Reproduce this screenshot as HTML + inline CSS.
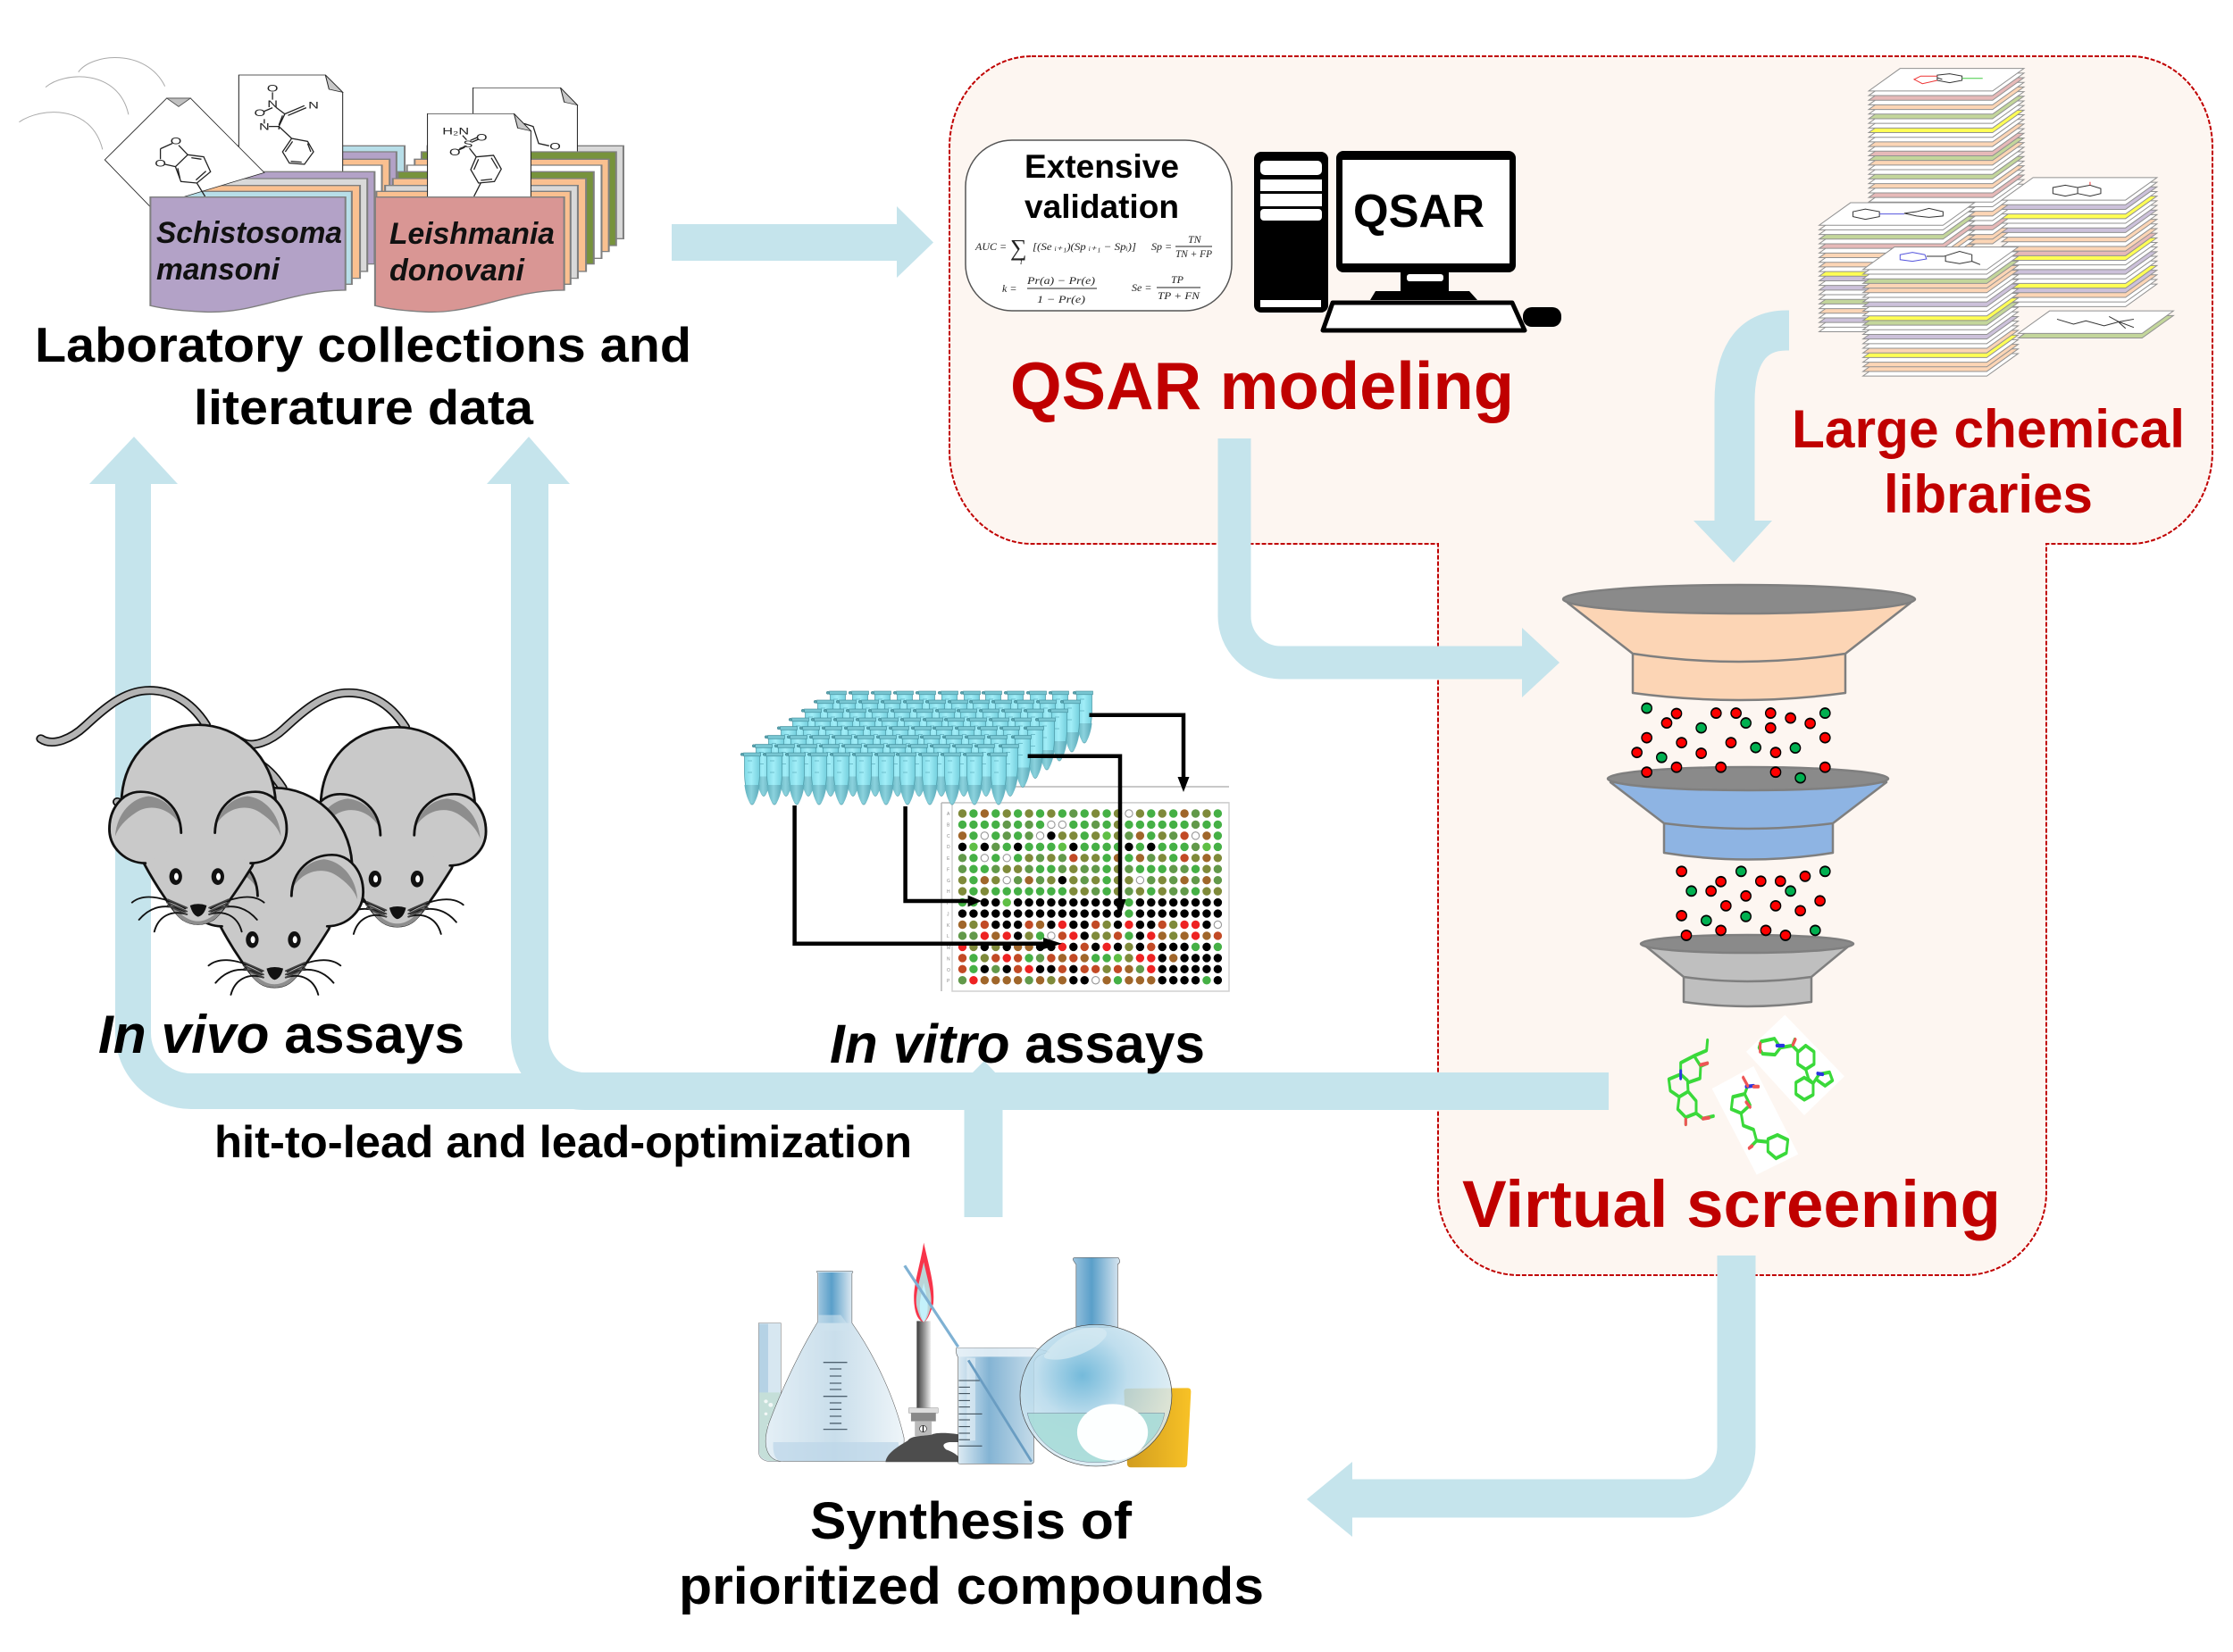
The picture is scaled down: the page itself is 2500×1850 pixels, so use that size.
<!DOCTYPE html>
<html><head><meta charset="utf-8"><title>Virtual screening workflow</title>
<style>html,body{margin:0;padding:0;background:#fff}svg{display:block}text{font-family:"Liberation Sans",Arial,sans-serif}</style></head>
<body>
<svg xmlns="http://www.w3.org/2000/svg" width="2500" height="1850" viewBox="0 0 2500 1850">
<defs>
<linearGradient id="neck" x1="0" x2="1" y1="0" y2="0"><stop offset="0" stop-color="#9cc4de"/><stop offset=".4" stop-color="#5a9fc9"/><stop offset="1" stop-color="#d8e6f0"/></linearGradient>
<linearGradient id="erl" x1="0" x2="1" y1="0" y2="0"><stop offset="0" stop-color="#e4eff6"/><stop offset=".5" stop-color="#c9deeb"/><stop offset="1" stop-color="#eef5f9"/></linearGradient>
<linearGradient id="bk" x1="0" x2="1" y1="0" y2="0"><stop offset="0" stop-color="#e2eef5"/><stop offset=".35" stop-color="#84b4d4"/><stop offset="1" stop-color="#dbe9f1"/></linearGradient>
<radialGradient id="rf" cx=".41" cy=".36" r=".6"><stop offset="0" stop-color="#5caed4"/><stop offset=".5" stop-color="#b4d8ea"/><stop offset="1" stop-color="#d9ebf3"/></radialGradient>
<linearGradient id="steel" x1="0" x2="1" y1="0" y2="0"><stop offset="0" stop-color="#3c3c3c"/><stop offset=".55" stop-color="#999"/><stop offset="1" stop-color="#eee"/></linearGradient>
<linearGradient id="cup" x1="0" x2="1" y1="0" y2="0"><stop offset="0" stop-color="#cf9b1f"/><stop offset="1" stop-color="#f8c226"/></linearGradient>
<linearGradient id="tb" x1="0" x2="1" y1="0" y2="0"><stop offset="0" stop-color="#7fd8e5"/><stop offset=".45" stop-color="#a2eef8"/><stop offset="1" stop-color="#74cfdd"/></linearGradient>
<linearGradient id="tl" x1="0" x2="1" y1="0" y2="0"><stop offset="0" stop-color="#5fb0be"/><stop offset=".45" stop-color="#8bd2dd"/><stop offset="1" stop-color="#5aa9b8"/></linearGradient>
<path id="sh" d="M38 0H188L150 68H0Z" stroke="#919191" stroke-width="1" vector-effect="non-scaling-stroke"/>
<g id="tube"><path d="M-8.5 3.5H8.5L8.5 24C8 40 3.5 58 0 58C-3.5 58-8 40-8.5 24Z" fill="url(#tb)" stroke="#4a98a5" stroke-width=".7"/><path d="M-8.5 36H8.5C7.5 46 3.5 57.5 0 57.5C-3.5 57.5-7.5 46-8.5 36Z" fill="url(#tl)"/><path d="M-5 9H0M-5 22H0" stroke="#5fb0be" stroke-width=".8"/><circle cx="-11.2" cy="1.8" r="1.6" fill="#5aa3ae" stroke="#327c8a" stroke-width=".5"/><rect x="-9.5" y="0" width="19" height="3.8" fill="#78c6d2" stroke="#3f8a98" stroke-width=".6"/></g>
<g id="trow"><use href="#tube" x="0"/><use href="#tube" x="25"/><use href="#tube" x="50"/><use href="#tube" x="75"/><use href="#tube" x="100"/><use href="#tube" x="125"/><use href="#tube" x="150"/><use href="#tube" x="174"/><use href="#tube" x="199"/><use href="#tube" x="224"/><use href="#tube" x="249"/><use href="#tube" x="276"/></g>
<g id="ear"><path d="M512 578C510 490 450 440 385 440C325 440 287 500 287 565C287 630 340 680 400 680L470 640Z" fill="#c9c9c9"/><path d="M305 590C310 510 360 460 410 455C460 460 495 500 505 545C470 490 410 480 370 510C335 535 315 560 305 590Z" fill="#8d8d8d"/><path d="M512 578C510 490 450 440 385 440C325 440 287 500 287 565C287 630 340 680 400 680" fill="none" stroke="#111" stroke-width="8" stroke-linecap="round"/></g>
<g id="wh" fill="none" stroke="#111" stroke-width="5.5" stroke-linecap="round"><path d="M525 832C470 800 400 775 358 812M525 842C470 815 420 820 380 870M530 852C480 835 440 860 428 910"/><path d="M470 802L530 830M468 812L530 842M470 822L530 852" stroke="#444"/></g>
<g id="mouse">
<path d="M590 215C540 130 470 95 400 100C330 105 270 160 210 220C170 260 110 290 72 262" fill="none" stroke="#111" stroke-width="30" stroke-linecap="round"/>
<path d="M590 215C540 130 470 95 400 100C330 105 270 160 210 220C170 260 110 290 72 262" fill="none" stroke="#b4b4b4" stroke-width="20" stroke-linecap="round"/>
<path d="M325 470C330 310 440 215 565 215C690 215 800 320 808 470L735 690C700 750 640 850 610 870C585 888 545 888 520 870C490 850 430 750 395 680Z" fill="#c9c9c9" stroke="#111" stroke-width="8"/>
<path d="M470 800C510 860 540 875 565 875C590 875 620 860 660 800C630 880 590 886 565 886C540 886 500 880 470 800Z" fill="#8d8d8d"/>
<use href="#ear"/><use href="#ear" transform="matrix(-1 0 0 1 1130 0)"/>
<ellipse cx="495" cy="725" rx="20" ry="28" fill="#111"/><ellipse cx="497" cy="725" rx="7" ry="12" fill="#fff"/>
<ellipse cx="627" cy="725" rx="20" ry="28" fill="#111"/><ellipse cx="629" cy="725" rx="7" ry="12" fill="#fff"/>
<path d="M540 822Q565 812 592 822Q585 855 565 860Q548 855 540 822Z" fill="#111"/>
<use href="#wh"/><use href="#wh" transform="matrix(-1 0 0 1 1130 0)"/>
</g>
</defs>

<rect width="2500" height="1850" fill="#fff"/>

<!-- dashed region -->
<path d="M1155 63H2385A92 102 0 0 1 2477 165V505A92 104 0 0 1 2385 609H2291V1335A91 93 0 0 1 2200 1428H1700A90 93 0 0 1 1610 1335V609H1155A92 104 0 0 1 1063 505V165A92 102 0 0 1 1155 63Z" fill="#fdf6f1" stroke="#c00000" stroke-width="2" stroke-dasharray="5 2"/>

<!-- big arrows -->
<g fill="none" stroke="#c5e4ec">
<path d="M752 271.5H1006" stroke-width="41"/>
<path d="M1382 491V690A52 52 0 0 0 1434 742H1706" stroke-width="37"/>
<path d="M2003 370H2000C1960 370 1942 400 1942 450V585" stroke-width="45"/>
<path d="M1944 1406V1620A58 58 0 0 1 1886 1678H1512" stroke-width="43"/>
<path d="M149 540V1157A65 65 0 0 0 214 1222H700" stroke-width="40"/>
<path d="M593 540V1160A62 62 0 0 0 655 1222H1801" stroke-width="42"/>
<path d="M1101 1220V1363" stroke-width="43"/>
</g>
<g fill="#c5e4ec">
<path d="M1004 231L1045 271.5L1004 311Z"/>
<path d="M1704 703L1746 742L1704 781Z"/>
<path d="M1896 583H1984L1941 630Z"/>
<path d="M1514 1637L1463 1679L1514 1721Z"/>
<path d="M100 542L150 489L199 542Z"/>
<path d="M545 542L592 489L638 542Z"/>
<path d="M1087 1203L1102 1188L1116 1203Z"/>
</g>

<!-- document stacks (zoom 1 coordinates) -->
<g transform="translate(0 30) scale(.5102 .3333)" stroke="#7f7f7f" stroke-width="2">
<g fill="none" stroke="#aaa" stroke-width="1"><path vector-effect="non-scaling-stroke" d="M172 152C200 90 320 70 362 200M100 203C140 150 260 140 282 295M42 320C90 270 200 260 225 412"/></g>
<g stroke-width="4">
<path d="M458 400H888V712H458Z" fill="#b7dee8"/>
<path d="M440 420H870V735H440Z" fill="#b3a2c7"/>
<path d="M425 445H855V755H425Z" fill="#fac090"/>
<path d="M408 465H838V778H408Z" fill="#fff"/>
</g>
<path d="M524 162H714L752 220V495H524Z" fill="#fff" stroke="#222" stroke-width="2"/>
<path d="M714 162L752 220L722 210Z" fill="#c8c8c8" stroke="#222"/>
<g stroke-width="4">
<path d="M392 487H822V797H392Z" fill="#b3a2c7"/>
<path d="M376 510H806V822H376Z" fill="#d9d9d9"/>
<path d="M360 533H790V845H360Z" fill="#fac090"/>
<path d="M342 553H772V865H342Z" fill="#b7dee8"/>
</g>
<path d="M366 240H418L580 490L330 605L230 447Z" fill="#fff" stroke="#222" stroke-width="2"/>
<path d="M366 240H418L392 268Z" fill="#c0c0c0" stroke="#444"/>
<g fill="none" stroke="#222" stroke-width="1.3">
<path vector-effect="non-scaling-stroke" d="M412 430L447 437L462 487L432 525L397 520L385 470ZM420 440L442 445M452 485L430 515M395 510L390 475M412 430L392 398M352 410L378 392M352 410L352 445M385 470L362 462M432 525L450 570"/>
<path vector-effect="non-scaling-stroke" d="M598 220V245M598 272L578 285M580 310V325M590 335H612L625 293L605 270M612 335V345M620 298L612 330M625 293L668 265M632 298L672 272M612 335L640 375L675 385L688 420L668 462L635 458L620 420L640 375M675 392L682 420M662 455L638 452M626 420L642 385"/>
</g>
<g font-size="32" fill="#222" stroke="none" text-anchor="middle">
<text x="598" y="218">O</text><text x="598" y="270">N</text><text x="570" y="300">O</text><text x="580" y="347">N</text><text x="688" y="274">N</text><text x="386" y="394">O</text><text x="352" y="469">O</text>
</g>
<!-- red stack -->
<g stroke-width="4"><path d="M938 400H1368V712H938Z" fill="#d9d9d9"/></g>
<path d="M1038 205H1230L1267 263V425H1038Z" fill="#fff" stroke="#222" stroke-width="2"/>
<path d="M1230 205L1267 263L1238 253Z" fill="#c8c8c8" stroke="#222"/>
<path vector-effect="non-scaling-stroke" d="M1150 325L1170 335L1182 392L1205 400" fill="none" stroke="#222" stroke-width="1.3"/>
<text x="1218" y="412" font-size="32" fill="#222" stroke="none" text-anchor="middle">O</text>
<g stroke-width="4">
<path d="M925 420H1352V735H925Z" fill="#77933c"/>
<path d="M910 445H1336V755H910Z" fill="#fac090"/>
<path d="M893 465H1320V778H893Z" fill="#fff"/>
<path d="M873 487H1303V797H873Z" fill="#77933c"/>
<path d="M862 510H1286V822H862Z" fill="#fac090"/>
<path d="M845 533H1268V845H845Z" fill="#d9d9d9"/>
<path d="M826 553H1252V865H826Z" fill="#fac090"/>
</g>
<path d="M938 292H1128L1165 350V575H938Z" fill="#fff" stroke="#222" stroke-width="2"/>
<path d="M1128 292L1165 350L1136 340Z" fill="#c8c8c8" stroke="#222"/>
<path vector-effect="non-scaling-stroke" fill="none" stroke="#222" stroke-width="1.3" d="M1015 365L1024 380M1030 408L1045 437L1083 432L1100 478L1085 520L1050 525L1033 480L1045 437M1078 440L1092 476M1080 512L1055 516M1040 480L1050 445M1020 405L1005 415M1024 400L1008 410M1035 388L1050 378M1032 382L1047 372M1055 525L1040 570"/>
<g font-size="32" fill="#222" stroke="none" text-anchor="middle"><text x="1000" y="362">H₂N</text><text x="1027" y="405">S</text><text x="998" y="432">O</text><text x="1057" y="382">O</text></g>
<!-- front docs -->
<path d="M330 572H758V885C640 885 560 965 450 958C400 955 360 948 330 937Z" fill="#b3a2c7" stroke-width="4"/>
<path d="M823 572H1238V885C1120 885 1040 965 935 958C890 955 850 948 823 937Z" fill="#d99694" stroke-width="4"/>
</g>
<g font-weight="bold" font-style="italic" font-size="34" fill="#111">
<text x="175" y="272" textLength="208" lengthAdjust="spacingAndGlyphs">Schistosoma</text>
<text x="175" y="313" textLength="138" lengthAdjust="spacingAndGlyphs">mansoni</text>
<text x="436" y="273" textLength="185" lengthAdjust="spacingAndGlyphs">Leishmania</text>
<text x="436" y="314" textLength="151" lengthAdjust="spacingAndGlyphs">donovani</text>
</g>

<!-- validation card -->
<rect x="1081" y="157" width="298" height="191" rx="52" ry="52" fill="#fff" stroke="#555" stroke-width="1.5"/>
<g font-weight="bold" font-size="37" fill="#000">
<text x="1147" y="199" textLength="173" lengthAdjust="spacingAndGlyphs">Extensive</text>
<text x="1147" y="244" textLength="173" lengthAdjust="spacingAndGlyphs">validation</text>
</g>
<g fill="#222" font-size="12" style="font-family:'Liberation Serif',serif" font-style="italic">
<text x="1092" y="280" style="font-family:'Liberation Serif',serif">AUC =</text>
<text x="1131" y="286" font-size="26" style="font-family:'Liberation Serif',serif" font-style="normal">∑</text>
<text x="1142" y="296" font-size="9" style="font-family:'Liberation Serif',serif">i</text>
<text x="1156" y="280" textLength="116" lengthAdjust="spacingAndGlyphs" style="font-family:'Liberation Serif',serif">[(Se ᵢ₊₁)(Sp ᵢ₊₁ − Spᵢ)]</text>
<text x="1289" y="280" style="font-family:'Liberation Serif',serif">Sp =</text>
<text x="1330" y="272" style="font-family:'Liberation Serif',serif">TN</text>
<text x="1316" y="288" textLength="41" lengthAdjust="spacingAndGlyphs" style="font-family:'Liberation Serif',serif">TN + FP</text>
<text x="1122" y="327" style="font-family:'Liberation Serif',serif">k =</text>
<text x="1150" y="318" textLength="76" lengthAdjust="spacingAndGlyphs" style="font-family:'Liberation Serif',serif">Pr(a) − Pr(e)</text>
<text x="1161" y="339" textLength="54" lengthAdjust="spacingAndGlyphs" style="font-family:'Liberation Serif',serif">1 − Pr(e)</text>
<text x="1267" y="326" style="font-family:'Liberation Serif',serif">Se =</text>
<text x="1311" y="317" style="font-family:'Liberation Serif',serif">TP</text>
<text x="1296" y="335" textLength="47" lengthAdjust="spacingAndGlyphs" style="font-family:'Liberation Serif',serif">TP + FN</text>
</g>
<path d="M1316 276H1357M1150 323H1228M1295 322H1344" stroke="#222" stroke-width="1"/>

<!-- computer -->
<rect x="1404" y="170" width="83" height="180" rx="8" fill="#000"/>
<g fill="#fff"><rect x="1411" y="180" width="69" height="16" rx="5"/><rect x="1411" y="201" width="69" height="13"/><rect x="1411" y="217" width="69" height="14"/><rect x="1411" y="234" width="69" height="13" rx="4"/><rect x="1411" y="336" width="68" height="8"/></g>
<rect x="1496" y="169" width="201" height="136" rx="8" fill="#000"/>
<rect x="1503" y="179" width="187" height="116" fill="#fff"/>
<text x="1515" y="254" font-weight="bold" font-size="52" fill="#000" textLength="147" lengthAdjust="spacingAndGlyphs">QSAR</text>
<path d="M1568 305H1622V326H1645L1654 336H1534L1540 326H1568Z" fill="#000"/>
<rect x="1575" y="307" width="41" height="8" rx="3" fill="#fff"/>
<path d="M1492 339H1693L1707 370H1481Z" fill="#fff" stroke="#000" stroke-width="5" stroke-linejoin="round"/>
<rect x="1705" y="344" width="43" height="22" rx="10" fill="#000"/>

<text x="1131" y="458" font-weight="bold" font-size="75" fill="#c00000" textLength="564" lengthAdjust="spacingAndGlyphs">QSAR modeling</text>

<!-- libraries (zoom 2 coordinates) -->
<g transform="translate(1050 50) scale(.9247 .3704)" fill="#fff">
<g transform="translate(1127 72)">
<use href="#sh" y="462" fill="#fcd5b5"/><use href="#sh" y="448" fill="#fcd5b5"/><use href="#sh" y="434"/><use href="#sh" y="420" fill="#e6b9b8"/><use href="#sh" y="406"/><use href="#sh" y="392"/><use href="#sh" y="378" fill="#fcd5b5"/><use href="#sh" y="364"/><use href="#sh" y="350"/><use href="#sh" y="336"/><use href="#sh" y="322" fill="#e6b9b8"/><use href="#sh" y="308"/><use href="#sh" y="294" fill="#fcd5b5"/><use href="#sh" y="280"/><use href="#sh" y="266" fill="#c3d69b"/><use href="#sh" y="252"/><use href="#sh" y="238"/><use href="#sh" y="224" fill="#fcd5b5"/><use href="#sh" y="210" fill="#c3d69b"/><use href="#sh" y="196" fill="#e6b9b8"/><use href="#sh" y="182"/><use href="#sh" y="168" fill="#fcd5b5"/><use href="#sh" y="154"/><use href="#sh" y="140"/><use href="#sh" y="126" fill="#ffff55"/><use href="#sh" y="112"/><use href="#sh" y="98"/><use href="#sh" y="84" fill="#c3d69b"/><use href="#sh" y="70"/><use href="#sh" y="56" fill="#fcd5b5"/><use href="#sh" y="42"/><use href="#sh" y="28" fill="#e6b9b8"/><use href="#sh" y="14"/><use href="#sh"/>
</g>
<g transform="translate(1288 402)">
<use href="#sh" y="322"/><use href="#sh" y="308"/><use href="#sh" y="294" fill="#fcd5b5"/><use href="#sh" y="280" fill="#ccc1da"/><use href="#sh" y="266" fill="#ffff55"/><use href="#sh" y="252"/><use href="#sh" y="238"/><use href="#sh" y="224" fill="#ccc1da"/><use href="#sh" y="210"/><use href="#sh" y="196"/><use href="#sh" y="182" fill="#ffff55"/><use href="#sh" y="168" fill="#e6b9b8"/><use href="#sh" y="154" fill="#fcd5b5"/><use href="#sh" y="140"/><use href="#sh" y="126" fill="#fcd5b5"/><use href="#sh" y="112"/><use href="#sh" y="98" fill="#ccc1da"/><use href="#sh" y="84"/><use href="#sh" y="70"/><use href="#sh" y="56" fill="#ffff55"/><use href="#sh" y="42"/><use href="#sh" y="28" fill="#ccc1da"/><use href="#sh" y="14"/><use href="#sh"/>
</g>
<g transform="translate(1067 478)">
<use href="#sh" y="322"/><use href="#sh" y="308"/><use href="#sh" y="294" fill="#ccc1da"/><use href="#sh" y="280"/><use href="#sh" y="266" fill="#fcd5b5"/><use href="#sh" y="252"/><use href="#sh" y="238" fill="#c3d69b"/><use href="#sh" y="224"/><use href="#sh" y="210"/><use href="#sh" y="196" fill="#ccc1da"/><use href="#sh" y="182"/><use href="#sh" y="168" fill="#ccc1da"/><use href="#sh" y="154" fill="#ffff55"/><use href="#sh" y="140"/><use href="#sh" y="126" fill="#fcd5b5"/><use href="#sh" y="112"/><use href="#sh" y="98" fill="#fcd5b5"/><use href="#sh" y="84"/><use href="#sh" y="70" fill="#e6b9b8"/><use href="#sh" y="56"/><use href="#sh" y="42" fill="#c3d69b"/><use href="#sh" y="28"/><use href="#sh" y="14"/><use href="#sh"/>
</g>
<g transform="translate(1120 612)">
<use href="#sh" y="322"/><use href="#sh" y="308" fill="#fcd5b5"/><use href="#sh" y="294" fill="#fcd5b5"/><use href="#sh" y="280"/><use href="#sh" y="266" fill="#ffff55"/><use href="#sh" y="252" fill="#fcd5b5"/><use href="#sh" y="238"/><use href="#sh" y="224"/><use href="#sh" y="210" fill="#ccc1da"/><use href="#sh" y="196"/><use href="#sh" y="182"/><use href="#sh" y="168" fill="#c3d69b"/><use href="#sh" y="154" fill="#ffff55"/><use href="#sh" y="140"/><use href="#sh" y="126"/><use href="#sh" y="112" fill="#ccc1da"/><use href="#sh" y="98"/><use href="#sh" y="84"/><use href="#sh" y="70" fill="#fcd5b5"/><use href="#sh" y="56" fill="#fcd5b5"/><use href="#sh" y="42" fill="#c3d69b"/><use href="#sh" y="28"/><use href="#sh" y="14"/><use href="#sh"/>
</g>
<use href="#sh" x="1308" y="819" fill="#c3d69b"/><use href="#sh" x="1308" y="805"/>
<g fill="none" stroke="#333" stroke-width="1" >
<path vector-effect="non-scaling-stroke" d="M1210 92L1225 88L1240 95L1240 108L1225 115L1210 108ZM1210 100L1216 105"/>
<path vector-effect="non-scaling-stroke" stroke="#e33" d="M1210 95L1190 95L1182 105L1192 118L1210 108"/>
<path vector-effect="non-scaling-stroke" stroke="#4c4" d="M1240 102H1265"/>
<path vector-effect="non-scaling-stroke" d="M1350 432L1365 425L1380 432V450L1365 458L1350 450ZM1380 432L1395 425L1408 435V450L1395 458L1380 450"/>
<path vector-effect="non-scaling-stroke" stroke="#e33" d="M1395 425V415"/>
<path vector-effect="non-scaling-stroke" d="M1108 505L1123 497L1140 505V520L1123 528L1108 520ZM1170 510L1185 505L1200 495L1217 505V518L1200 522L1185 518Z"/>
<path vector-effect="non-scaling-stroke" stroke="#55d" d="M1140 512H1170"/>
<path vector-effect="non-scaling-stroke" stroke="#55d" d="M1165 635L1180 628L1195 635L1197 648L1180 655L1165 650Z"/>
<path vector-effect="non-scaling-stroke" d="M1197 640H1218L1237 625L1252 635V655L1237 662L1220 655V640M1252 655L1262 665"/>
<path vector-effect="non-scaling-stroke" d="M1355 830L1375 845L1390 835L1412 850L1430 838L1448 830M1430 838L1448 855M1430 838L1418 822M1430 840L1438 858"/>
</g>
</g>
<g font-weight="bold" font-size="60" fill="#c00000">
<text x="2006" y="501" textLength="440" lengthAdjust="spacingAndGlyphs">Large chemical</text>
<text x="2109" y="574" textLength="234" lengthAdjust="spacingAndGlyphs">libraries</text>
</g>

<!-- funnels -->
<g stroke="#7f7f7f" stroke-width="2.5" stroke-linejoin="round">
<path d="M1828 732V776Q1947 792 2066 776V732Z" fill="#fcd5b5"/>
<path d="M1755 675L1828 732Q1947 750 2066 732L2139 675Z" fill="#fcd5b5"/>
<ellipse cx="1947" cy="671" rx="197" ry="16" fill="#8a8a8a"/>
<path d="M1863 922V955Q1957 970 2052 955V922Z" fill="#8eb4e3"/>
<path d="M1803 876L1863 922Q1957 934 2052 922L2112 876Z" fill="#8eb4e3"/>
<ellipse cx="1957" cy="872" rx="157" ry="13" fill="#8a8a8a"/>
<path d="M1885 1094V1122Q1956 1132 2028 1122V1094Z" fill="#bfbfbf"/>
<path d="M1843 1060L1885 1094Q1956 1104 2028 1094L2069 1060Z" fill="#bfbfbf"/>
<ellipse cx="1956" cy="1057" rx="119" ry="10" fill="#8a8a8a"/>
</g>
<!-- balls & molecules (zoom 3 coordinates) -->
<g transform="translate(1700 620) scale(.3333 .4591)" stroke="#000" stroke-width="4">
<g fill="#f00">
<ellipse cx="531" cy="390" rx="17" ry="12"/><ellipse cx="498" cy="413" rx="17" ry="12"/><ellipse cx="664" cy="389" rx="17" ry="12"/><ellipse cx="731" cy="389" rx="17" ry="12"/><ellipse cx="847" cy="389" rx="17" ry="12"/><ellipse cx="847" cy="425" rx="17" ry="12"/><ellipse cx="914" cy="401" rx="17" ry="12"/><ellipse cx="980" cy="414" rx="17" ry="12"/><ellipse cx="431" cy="449" rx="17" ry="12"/><ellipse cx="1030" cy="449" rx="17" ry="12"/><ellipse cx="548" cy="461" rx="17" ry="12"/><ellipse cx="714" cy="461" rx="17" ry="12"/><ellipse cx="864" cy="485" rx="17" ry="12"/><ellipse cx="398" cy="485" rx="17" ry="12"/><ellipse cx="614" cy="487" rx="17" ry="12"/><ellipse cx="431" cy="533" rx="17" ry="12"/><ellipse cx="531" cy="521" rx="17" ry="12"/><ellipse cx="680" cy="521" rx="17" ry="12"/><ellipse cx="864" cy="533" rx="17" ry="12"/><ellipse cx="1030" cy="521" rx="17" ry="12"/>
<ellipse cx="548" cy="775" rx="17" ry="12"/><ellipse cx="680" cy="800" rx="17" ry="12"/><ellipse cx="814" cy="799" rx="17" ry="12"/><ellipse cx="880" cy="799" rx="17" ry="12"/><ellipse cx="963" cy="787" rx="17" ry="12"/><ellipse cx="647" cy="823" rx="17" ry="12"/><ellipse cx="764" cy="835" rx="17" ry="12"/><ellipse cx="1013" cy="847" rx="17" ry="12"/><ellipse cx="697" cy="859" rx="17" ry="12"/><ellipse cx="864" cy="859" rx="17" ry="12"/><ellipse cx="947" cy="871" rx="17" ry="12"/><ellipse cx="548" cy="883" rx="17" ry="12"/><ellipse cx="680" cy="919" rx="17" ry="12"/><ellipse cx="831" cy="919" rx="17" ry="12"/><ellipse cx="897" cy="931" rx="17" ry="12"/><ellipse cx="564" cy="931" rx="17" ry="12"/>
</g>
<g fill="#00b050">
<ellipse cx="431" cy="377" rx="17" ry="12"/><ellipse cx="764" cy="413" rx="17" ry="12"/><ellipse cx="614" cy="425" rx="17" ry="12"/><ellipse cx="1030" cy="389" rx="17" ry="12"/><ellipse cx="797" cy="473" rx="17" ry="12"/><ellipse cx="930" cy="474" rx="17" ry="12"/><ellipse cx="481" cy="497" rx="17" ry="12"/><ellipse cx="947" cy="547" rx="17" ry="12"/>
<ellipse cx="748" cy="775" rx="17" ry="12"/><ellipse cx="1030" cy="775" rx="17" ry="12"/><ellipse cx="581" cy="823" rx="17" ry="12"/><ellipse cx="914" cy="823" rx="17" ry="12"/><ellipse cx="631" cy="895" rx="17" ry="12"/><ellipse cx="764" cy="885" rx="17" ry="12"/><ellipse cx="997" cy="919" rx="17" ry="12"/>
</g>
<path d="M650 1305L790 1250L940 1465L800 1515Z" fill="#fff" stroke="none"/>
<path d="M765 1215L895 1125L1095 1275L960 1370Z" fill="#fff" stroke="none"/>
<g fill="none" stroke="#3ad93a" stroke-width="9" stroke-linejoin="round" stroke-linecap="round">
<path d="M635 1187L632 1212L590 1225L545 1242V1270L505 1282L510 1310L540 1325L570 1312L568 1285L545 1270M590 1225L612 1250L610 1280L570 1290M540 1325L535 1355L562 1375L597 1365V1335L570 1312M597 1365L620 1378L655 1372M612 1250L635 1243M562 1375V1392"/>
<path d="M870 1418L905 1430L900 1462L865 1475L838 1458L838 1428ZM838 1435L800 1432L790 1405L755 1395L748 1365L715 1355L720 1325L760 1318L778 1345L748 1365M760 1318L770 1298M800 1432L780 1447"/>
<path d="M815 1190L860 1183L880 1205L862 1222L820 1220L808 1205ZM880 1205L920 1200L940 1215L965 1200L993 1215V1245L965 1258L938 1245V1215M920 1200L928 1185M965 1258L975 1282L990 1292V1320L960 1332L932 1318V1290L960 1278L990 1292L1010 1270L1045 1265L1055 1285L1030 1298L1005 1285"/>
</g>
<g fill="none" stroke-width="9" stroke-linecap="round">
<path d="M545 1262V1280M868 1200H890M765 1300L790 1298" stroke="#2a35e0"/>
<path d="M612 1247L635 1243M620 1378L640 1376M562 1380V1392M770 1298L755 1278M790 1300H806M785 1445L775 1450M922 1198L930 1185M812 1195V1215M765 1338L778 1350" stroke="#ee5555"/>
<path d="M1005 1268L1022 1270" stroke="#2a35e0"/>
</g>
</g>
<text x="1637" y="1374" font-weight="bold" font-size="74" fill="#c00000" textLength="603" lengthAdjust="spacingAndGlyphs">Virtual screening</text>

<!-- mice -->
<g transform="translate(20 740) scale(.357 .3333)">
<use href="#mouse" transform="translate(625 8)"/>
<use href="#mouse" transform="translate(240 212)"/>
<use href="#mouse"/>
</g>
<text x="110" y="1179" font-weight="bold" font-size="60" fill="#000" textLength="410" lengthAdjust="spacingAndGlyphs"><tspan font-style="italic">In vivo</tspan> assays</text>

<!-- plate -->
<path d="M1137 881H1376M1054 899V1110" stroke="#b5b5b5" stroke-width="1.5" fill="none"/>
<path d="M1054 899H1376" stroke="#b5b5b5" stroke-width="1.5" fill="none"/>
<rect x="1066" y="899" width="310" height="211" fill="#fff" stroke="#d0d0d0" stroke-width="1.5"/>
<g transform="translate(1077.5 911) scale(12.43 12.45)" fill="none" stroke-linecap="round" stroke-width=".76">
<path stroke="#000" d="M2 8h0M3 8h0M5 8h0M6 8h0M7 8h0M8 8h0M9 8h0M10 8h0M11 8h0M12 8h0M13 8h0M14 8h0M16 8h0M17 8h0M18 8h0M19 8h0M20 8h0M21 8h0M22 8h0M23 8h0M0 9h0M1 9h0M2 9h0M3 9h0M4 9h0M5 9h0M6 9h0M7 9h0M8 9h0M9 9h0M10 9h0M11 9h0M12 9h0M13 9h0M14 9h0M16 9h0M17 9h0M18 9h0M19 9h0M20 9h0M21 9h0M22 9h0M23 9h0"/>
<path stroke="#7f8a3a" d="M0 0h0M4 0h0M6 0h0M8 0h0M12 0h0M14 0h0M16 0h0M18 0h0M22 0h0M14 1h0M9 2h0M10 2h0M12 2h0M14 2h0M18 2h0M6 4h0M8 4h0M11 4h0M12 4h0M18 4h0M21 4h0M23 4h0M4 5h0M5 5h0M10 5h0M14 5h0M22 5h0M0 6h0M3 6h0M8 6h0M10 6h0M12 6h0M14 6h0M15 6h0M18 6h0M0 7h0M2 7h0M10 7h0M11 7h0M14 7h0M16 7h0M18 7h0M22 7h0M23 7h0M1 10h0M13 10h0M19 10h0M6 11h0M12 11h0M13 11h0M19 11h0M1 12h0M3 12h0M15 12h0M2 13h0M15 13h0M13 14h0M8 15h0"/>
<path stroke="#45b045" d="M1 0h0M3 0h0M5 0h0M7 0h0M9 0h0M11 0h0M13 0h0M17 0h0M19 0h0M23 0h0M0 1h0M1 1h0M2 1h0M3 1h0M5 1h0M7 1h0M10 1h0M11 1h0M13 1h0M15 1h0M16 1h0M17 1h0M18 1h0M19 1h0M20 1h0M22 1h0M23 1h0M1 2h0M3 2h0M5 2h0M11 2h0M17 2h0M23 2h0M4 3h0M6 3h0M7 3h0M8 3h0M11 3h0M12 3h0M13 3h0M14 3h0M16 3h0M18 3h0M19 3h0M20 3h0M23 3h0M1 4h0M3 4h0M5 4h0M13 4h0M15 4h0M19 4h0M1 5h0M2 5h0M7 5h0M8 5h0M13 5h0M16 5h0M17 5h0M18 5h0M21 5h0M1 6h0M13 6h0M1 7h0M3 7h0M4 7h0M5 7h0M6 7h0M7 7h0M8 7h0M9 7h0M13 7h0M17 7h0M21 7h0M0 8h0M1 8h0M15 8h0M15 9h0M7 11h0M15 11h0M21 12h0M23 12h0M1 13h0M6 13h0M12 13h0M13 13h0M1 14h0M14 15h0M22 15h0"/>
<path stroke="#62994a" d="M10 0h0M21 0h0M4 1h0M6 1h0M12 1h0M21 1h0M4 2h0M6 2h0M15 2h0M19 2h0M3 3h0M21 3h0M0 4h0M7 4h0M9 4h0M17 4h0M0 5h0M3 5h0M6 5h0M9 5h0M11 5h0M12 5h0M15 5h0M19 5h0M20 5h0M23 5h0M5 6h0M7 6h0M11 6h0M17 6h0M19 6h0M21 6h0M23 6h0M12 7h0M15 7h0M19 7h0M20 7h0M0 11h0M1 11h0M7 13h0M3 14h0M16 14h0M0 15h0M6 15h0"/>
<path stroke="#5fbf45" d="M13 2h0M1 3h0M9 3h0M22 3h0M4 8h0M14 13h0"/>
<path stroke="#a0662a" d="M2 0h0M20 0h0M0 2h0M16 2h0M22 2h0M14 4h0M16 4h0M22 4h0M2 6h0M6 6h0M20 6h0M22 6h0M0 10h0M7 10h0M3 11h0M18 11h0M20 11h0M22 11h0M5 12h0M6 12h0M9 13h0M11 13h0M19 13h0M15 14h0M2 15h0M3 15h0M4 15h0M5 15h0M7 15h0M9 15h0M13 15h0M15 15h0M16 15h0M17 15h0"/>
<path stroke="#c24a25" d="M20 2h0M10 4h0M20 4h0M2 10h0M6 10h0M12 10h0M18 10h0M9 11h0M14 11h0M23 11h0M11 12h0M17 12h0M0 13h0M3 13h0M5 13h0M8 13h0M10 13h0M0 14h0M5 14h0M9 14h0M11 14h0M12 14h0M14 14h0"/>
<path stroke="#ee2222" d="M9 10h0M15 10h0M20 10h0M21 10h0M2 11h0M4 11h0M10 11h0M17 11h0M21 11h0M0 12h0M9 12h0M13 12h0M4 13h0M16 13h0M17 13h0M6 14h0M17 14h0M1 15h0"/>
<path stroke="#000" d="M8 2h0M0 3h0M2 3h0M5 3h0M10 3h0M15 3h0M17 3h0M9 6h0M3 10h0M4 10h0M5 10h0M8 10h0M10 10h0M11 10h0M14 10h0M16 10h0M17 10h0M22 10h0M5 11h0M11 11h0M16 11h0M2 12h0M4 12h0M7 12h0M8 12h0M10 12h0M12 12h0M14 12h0M16 12h0M18 12h0M19 12h0M20 12h0M22 12h0M18 13h0M20 13h0M21 13h0M22 13h0M23 13h0M2 14h0M4 14h0M7 14h0M8 14h0M10 14h0M18 14h0M19 14h0M20 14h0M21 14h0M22 14h0M23 14h0M10 15h0M11 15h0M18 15h0M19 15h0M20 15h0M21 15h0M23 15h0"/>
<path stroke="#999" d="M15 0h0M8 1h0M9 1h0M2 2h0M7 2h0M21 2h0M2 4h0M4 4h0M4 6h0M16 6h0M23 10h0M8 11h0M12 15h0"/>
<path stroke="#fff" stroke-width=".58" d="M15 0h0M8 1h0M9 1h0M2 2h0M7 2h0M21 2h0M2 4h0M4 4h0M4 6h0M16 6h0M23 10h0M8 11h0M12 15h0"/>
</g>
<text x="1060 1060 1060 1060 1060 1060 1060 1060 1060 1060 1060 1060 1060 1060 1060 1060" y="913 925.5 938 950 963 975.5 988 1000 1013 1025.5 1038 1050 1063 1075.5 1088 1100" font-size="5" fill="#888">ABCDEFGHIJKLMNOP</text>

<!-- tubes -->
<g>
<use href="#trow" transform="translate(938 774)"/>
<use href="#trow" transform="translate(924 784)"/>
<use href="#trow" transform="translate(910 794)"/>
<use href="#trow" transform="translate(896 804)"/>
<use href="#trow" transform="translate(883 813.5)"/>
<use href="#trow" transform="translate(869 823.5)"/>
<use href="#trow" transform="translate(855 833.5)"/>
<use href="#trow" transform="translate(842 843)"/>
</g>
<!-- black arrows -->
<g fill="none" stroke="#000" stroke-width="4.5">
<path d="M1219.5 800.7H1325V872"/>
<path d="M1150.6 846.7H1254V1009"/>
<path d="M1013.6 903V1009H1086"/>
<path d="M889.6 902V1056.7H1170"/>
</g>
<g fill="#000">
<path d="M1318.5 870H1331.5L1325 887Z"/>
<path d="M1247.5 1007H1260.5L1254 1027Z"/>
<path d="M1083.6 1002.5V1015.5L1099 1009Z"/>
<path d="M1168 1050V1063L1189 1056.7Z"/>
</g>
<text x="929" y="1190" font-weight="bold" font-size="61" fill="#000" textLength="420" lengthAdjust="spacingAndGlyphs"><tspan font-style="italic">In vitro</tspan> assays</text>

<text x="240" y="1296" font-weight="bold" font-size="50" fill="#000" textLength="781" lengthAdjust="spacingAndGlyphs">hit-to-lead and lead-optimization</text>

<g font-weight="bold" font-size="54.5" fill="#000">
<text x="39" y="405" textLength="735" lengthAdjust="spacingAndGlyphs">Laboratory collections and</text>
<text x="217" y="475" textLength="380" lengthAdjust="spacingAndGlyphs">literature data</text>
</g>

<!-- glassware (zoom 6 coordinates) -->
<g transform="translate(820 1380) scale(.357 .3333)">
<path d="M82 305H152V770H115Q82 765 82 735Z" fill="#d7e7f1" stroke="#777" stroke-width="1.5"/>
<path d="M84 308H112V540H84Z" fill="#a6c9e0" opacity=".7"/>
<path d="M84 538H150V768H118Q84 762 84 735Z" fill="#c5dfd9"/>
<g fill="#fff" opacity=".8"><circle cx="105" cy="568" r="6"/><circle cx="120" cy="580" r="7"/><circle cx="105" cy="610" r="5"/><circle cx="115" cy="650" r="6"/><circle cx="110" cy="700" r="6"/><circle cx="125" cy="738" r="8"/><circle cx="120" cy="690" r="5"/></g>
<path d="M268 300V138Q260 130 268 130H372Q382 130 375 138V305C450 420 510 560 538 690C540 720 530 770 490 770H160C110 770 90 720 115 640C150 540 210 400 268 300Z" fill="url(#erl)" stroke="#555" stroke-width="1.5"/>
<path d="M270 135H373V305H270Z" fill="url(#neck)"/>
<path d="M270 278H340L375 330H270Z" fill="#cfe2ee" opacity=".6"/>
<path d="M128 705H520L530 768H150Q125 760 128 705Z" fill="#bcd6e8" opacity=".7"/>
<path d="M285 437H360M305 459H342M305 483H342M305 507H342M305 528H342M285 551H360M305 573H342M305 595H342M305 618H342M305 642H342M285 662H360" stroke="#4f6270" stroke-width="4"/>
<path d="M578 298H622V590H578Z" fill="url(#steel)"/>
<path d="M600 35C620 130 635 180 630 240Q615 295 600 302Q575 295 570 240C565 180 585 130 600 35Z" fill="#f8344a"/>
<path d="M600 100C614 170 628 210 622 250Q612 292 600 302Q588 292 578 250C572 210 586 170 600 100Z" fill="#b9d6d8"/>
<path d="M600 170C608 210 616 240 611 270Q605 296 600 302Q595 296 589 270C584 240 592 210 600 170Z" fill="#c4f1fb"/>
<path d="M553 590H645V607H553Z" fill="#ddd" stroke="#666"/>
<path d="M560 607H638V635H560Z" fill="#888"/>
<path d="M572 635H625V685H572Z" fill="#bbb"/>
<circle cx="598" cy="660" r="11" fill="#fff" stroke="#333" stroke-width="2"/><path d="M598 649V671" stroke="#222" stroke-width="4"/>
<path d="M480 772C485 740 520 720 550 700C560 682 600 685 625 680C640 670 700 675 720 682V705H680Q650 710 670 730Q710 745 720 772Z" fill="#4d4d4d"/>
<path d="M540 112L708 385" stroke="#7fb1d3" stroke-width="9"/>
<path d="M708 775V420Q700 410 702 388H945L995 402Q950 410 945 440V770Q945 778 935 778H716Q708 778 708 775Z" fill="url(#bk)" stroke="#444" stroke-width="1.5"/>
<path d="M702 388H945L990 402L945 418H708Z" fill="#e6f0f6" opacity=".9"/>
<path d="M735 422H762V700H735Z" fill="#eef5f9" opacity=".5"/>
<path d="M710 498H783M710 520H745M710 542H745M710 565H745M710 587H745M710 610H783M710 630H745M710 653H745M710 675H745M710 697H745M710 718H783" stroke="#33434f" stroke-width="3"/>
<path d="M740 430L938 770" stroke="#6a9dc2" stroke-width="8"/>
<path d="M1238 525Q1228 525 1228 535L1238 780Q1240 790 1250 790H1415Q1425 790 1426 780L1438 535Q1438 523 1428 523Z" fill="url(#cup)"/>
<path d="M1078 320V108Q1060 85 1075 85H1210Q1220 100 1208 108V320Z" fill="url(#neck)" stroke="#444" stroke-width="1.5"/>
<circle cx="1140" cy="548" r="238" fill="url(#rf)" fill-opacity=".85" stroke="#444" stroke-width="2"/>
<path d="M925 607H1355C1345 690 1260 775 1140 773C1020 775 940 690 925 607Z" fill="#a7dbd8" fill-opacity=".9" stroke="#557" stroke-width="1"/>
<ellipse cx="1192" cy="672" rx="111" ry="95" fill="#fdffff"/>
<path d="M980 410C1020 350 1080 320 1140 320C1170 322 1180 335 1170 352C1140 395 1070 425 1020 428C990 428 970 425 980 410Z" fill="#d6e9f2" opacity=".75"/>
</g>
<g font-weight="bold" font-size="58" fill="#000">
<text x="907" y="1723" textLength="360" lengthAdjust="spacingAndGlyphs">Synthesis of</text>
<text x="760" y="1796" textLength="655" lengthAdjust="spacingAndGlyphs">prioritized compounds</text>
</g>
</svg>
</body></html>
